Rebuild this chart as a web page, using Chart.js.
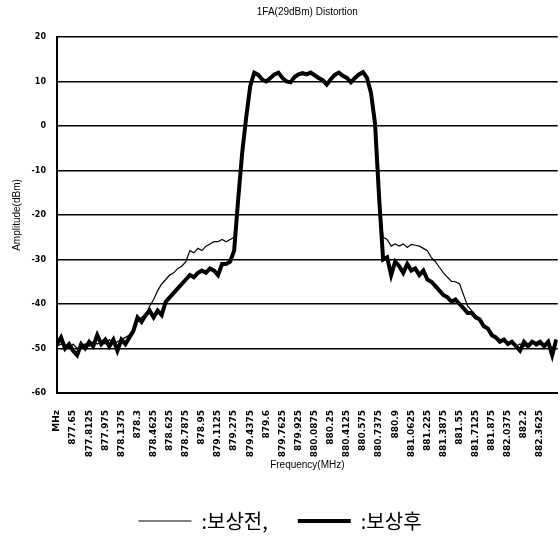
<!DOCTYPE html>
<html>
<head>
<meta charset="utf-8">
<script src="https://cdn.jsdelivr.net/npm/chart.js@4"></script>
<style>
  html, body { margin: 0; padding: 0; background: #fff; }
</style>
</head>
<body>
<canvas id="myChart" width="560" height="541"></canvas>
<script>
// sweep grid of the analyzer trace
const sweepStart = 877.4875;
const sweepStep = 0.040625;

// amplitude (dBm) before compensation
const before = [
  -49.5, -49, -49.5, -50, -49, -50, -49.5, -49, -49.5, -48.5,
  -49, -48.5, -49, -48, -49, -48.5, -48, -47.5, -47, -45.5,
  -44, -43, -42.5, -40.5, -39, -37, -35.5, -34.5, -33.5, -33,
  -32, -31.5, -30.5, -28, -28.5, -27.5, -28, -27, -26.5, -26,
  -26, -25.5, -26, -25.5, -25, -17, -6.5, 1.5, 8.5, 11.6,
  11.2, 10.6, 10.2, 10.6, 11.3, 11.7, 11, 10.3, 10.1, 10.8,
  11.3, 11.6, 11.4, 11.7, 11.2, 10.9, 10.5, 9.8, 10.5, 11.2,
  11.7, 11.2, 10.9, 10.2, 10.7, 11.3, 11.8, 10.6, 7, 0,
  -16.5, -25, -25.5, -27, -26.5, -27, -26.5, -27.3, -26.6, -26.8,
  -27, -27.5, -28, -29.6, -30.5, -31.8, -33, -34, -34.9, -35,
  -35.5, -38, -40.5, -41.5, -42.5, -43.5, -44.5, -45.5, -46.5, -47.5,
  -48, -48.5, -49, -48.5, -49.5, -49, -49.5, -49, -48.5, -49.5,
  -49, -49.5, -49, -50, -49
];

// amplitude (dBm) after compensation
const after = [
  -49, -47.5, -50, -49, -50.5, -51.5, -49, -50, -48.5, -49.5,
  -47, -49, -48, -49.5, -48, -50.5, -48, -49, -47.5, -46,
  -43, -44, -42.5, -41.5, -43, -41.5, -42.5, -39.5, -38.5, -37.5,
  -36.5, -35.5, -34.5, -33.5, -34, -33, -32.5, -33, -32, -32.5,
  -33.5, -31, -31, -30.5, -28, -16.5, -6, 2, 9, 12,
  11.5, 10.4, 10, 10.8, 11.6, 12, 10.8, 10, 9.8, 11,
  11.6, 11.9, 11.6, 12, 11.4, 10.8, 10.3, 9.3, 10.5, 11.5,
  12, 11.3, 10.8, 9.8, 10.8, 11.6, 12.1, 10.8, 7.4, 0.5,
  -16, -30, -29.5, -33.5, -30.5, -31.5, -33, -31, -32.5, -32,
  -33.5, -32.5, -34.5, -35, -36, -37, -38, -38.5, -39.5, -39,
  -40, -41, -42, -42, -43, -43.5, -45, -45.5, -47, -47.5,
  -48.5, -48, -49, -48.5, -49.5, -50.5, -48.5, -49.5, -48.5, -49,
  -48.5, -49.5, -48.5, -51.5, -48
];

// frequency axis labels
const tickFreqs = [
  877.4875, 877.65, 877.8125, 877.975, 878.1375, 878.3, 878.4625, 878.625,
  878.7875, 878.95, 879.1125, 879.275, 879.4375, 879.6, 879.7625, 879.925,
  880.0875, 880.25, 880.4125, 880.575, 880.7375, 880.9, 881.0625, 881.225,
  881.3875, 881.55, 881.7125, 881.875, 882.0375, 882.2, 882.3625
];
const tickLabels = [
  'MHz', '877.65', '877.8125', '877.975', '878.1375', '878.3', '878.4625', '878.625',
  '878.7875', '878.95', '879.1125', '879.275', '879.4375', '879.6', '879.7625', '879.925',
  '880.0875', '880.25', '880.4125', '880.575', '880.7375', '880.9', '881.0625', '881.225',
  '881.3875', '881.55', '881.7125', '881.875', '882.0375', '882.2', '882.3625'
];

function toPoints(values) {
  return values.map((v, i) => ({ x: sweepStart + i * sweepStep, y: v }));
}

const smallFont = { family: 'Liberation Sans', size: 10, weight: 'normal' };

const ctx = document.getElementById('myChart').getContext('2d');
const myChart = new Chart(ctx, {
  type: 'line',
  data: {
    datasets: [{
      label: ':보상전,',
      data: toPoints(before),
      borderColor: '#000',
      borderWidth: 1.2,
      pointRadius: 0
    }, {
      label: ':보상후',
      data: toPoints(after),
      borderColor: '#000',
      borderWidth: 4,
      pointRadius: 0
    }]
  },
  options: {
    responsive: false,
    animation: false,
    layout: { padding: 0 },
    plugins: {
      title: {
        display: true,
        text: '1FA(29dBm) Distortion',
        color: '#000',
        font: smallFont,
        fullSize: false,
        padding: { top: 6, bottom: 19 }
      },
      legend: {
        position: 'bottom',
        labels: {
          color: '#000',
          font: { family: 'Noto Sans CJK KR', size: 20 },
          usePointStyle: true,
          pointStyle: 'line',
          pointStyleWidth: 53,
          padding: 30
        }
      },
      tooltip: { enabled: false }
    },
    scales: {
      x: {
        type: 'linear',
        min: 877.4875,
        max: 882.54,
        grid: { display: false },
        border: { display: true, color: '#000', width: 2 },
        afterBuildTicks: scale => {
          scale.ticks = tickFreqs.map(v => ({ value: v }));
        },
        afterFit: scale => { scale.height = 88; },
        ticks: {
          autoSkip: false,
          minRotation: 90,
          maxRotation: 90,
          padding: 9,
          color: '#000',
          font: { family: 'DejaVu Sans', size: 9, weight: 'bold' },
          callback: (value, index) => tickLabels[index]
        },
        title: {
          display: true,
          text: 'Frequency(MHz)',
          color: '#000',
          font: smallFont,
          padding: { top: 4, bottom: 10 }
        }
      },
      y: {
        min: -60,
        max: 20,
        afterFit: scale => { scale.width = 57; },
        grid: { color: '#000', lineWidth: 1.5, drawTicks: false },
        border: { color: '#000', width: 2 },
        ticks: {
          stepSize: 10,
          padding: 11,
          color: '#000',
          font: { family: 'DejaVu Sans', size: 8, weight: 'bold' }
        },
        title: {
          display: true,
          text: 'Amplitude(dBm)',
          color: '#000',
          font: smallFont,
          padding: { top: 11, bottom: 0 }
        }
      }
    }
  }
});
</script>
</body>
</html>
